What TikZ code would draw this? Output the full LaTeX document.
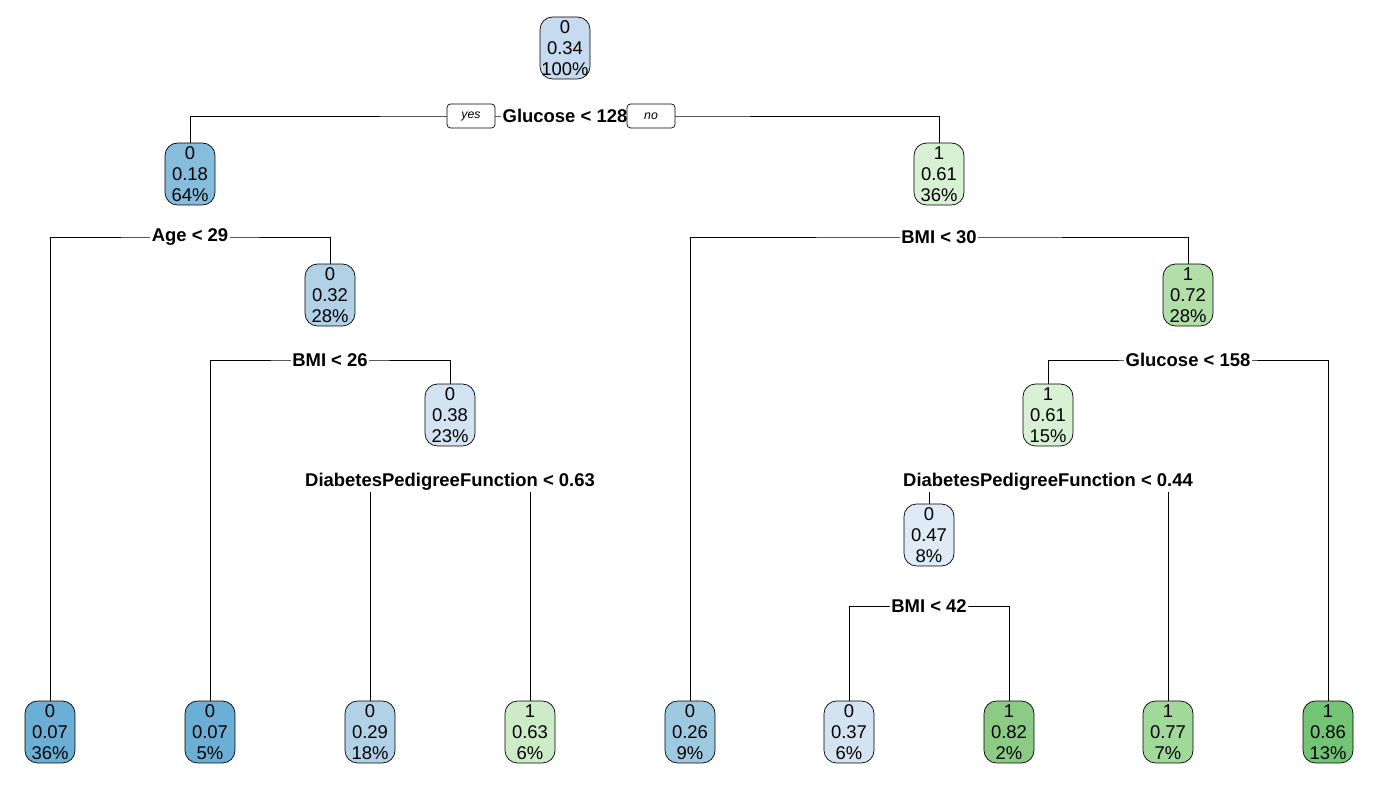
\documentclass[tikz,border=0pt]{standalone}
\usepackage{fontspec}
\setmainfont{Liberation Sans}
\usetikzlibrary{shapes,arrows,positioning,backgrounds}
\definecolor{b07}{HTML}{6BAED6}
\definecolor{b18}{HTML}{86BCDC}
\definecolor{b26}{HTML}{9ECAE1}
\definecolor{b29}{HTML}{B1D1E7}
\definecolor{b34}{HTML}{C6DBEF}
\definecolor{b37}{HTML}{D4E3F2}
\definecolor{b47}{HTML}{DEEBF7}
\definecolor{g61}{HTML}{D8F0D3}
\definecolor{g63}{HTML}{CDEBC6}
\definecolor{g72}{HTML}{B2DFA8}
\definecolor{g77}{HTML}{A1D99B}
\definecolor{g82}{HTML}{8CCB85}
\definecolor{g86}{HTML}{74C476}
\begin{document}
\begin{tikzpicture}[x=0.02cm, y=0.02cm]
    % Define styles
    \tikzstyle{box} = [rectangle, rounded corners=0.25cm, minimum width=1cm, minimum height=1.24cm, inner sep=0pt, align=center, draw=black, font=\fontsize{10.5}{12}\selectfont]
    \tikzstyle{split} = [fill=white, inner sep=1pt, font=\fontsize{10.5}{12}\selectfont\bfseries]
    \tikzstyle{answer} = [rectangle, rounded corners=2pt, minimum width=0.96cm, minimum height=0.48cm, inner sep=0pt, draw=black, fill=white, font=\fontsize{7}{8}\selectfont\itshape]
    \useasboundingbox (0,0) rectangle (1373,-793);

    % Nodes
    \node[box, fill=b34] (root) at (565,-48) {0\\0.34\\100\%};
    \node[box, fill=b18] (n2) at (190,-174) {0\\0.18\\64\%};
    \node[box, fill=g61] (n3) at (939,-174) {1\\0.61\\36\%};
    \node[box, fill=b29] (n5) at (330,-295) {0\\0.32\\28\%};
    \node[box, fill=g72] (n7) at (1188,-295) {1\\0.72\\28\%};
    \node[box, fill=b37] (n11) at (450,-415) {0\\0.38\\23\%};
    \node[box, fill=g61] (n14) at (1048,-415) {1\\0.61\\15\%};
    \node[box, fill=b47] (n28) at (929,-535) {0\\0.47\\8\%};
    \node[box, fill=b07] (l1) at (50,-732) {0\\0.07\\36\%};
    \node[box, fill=b07] (l2) at (210,-732) {0\\0.07\\5\%};
    \node[box, fill=b29] (l3) at (370,-732) {0\\0.29\\18\%};
    \node[box, fill=g63] (l4) at (530,-732) {1\\0.63\\6\%};
    \node[box, fill=b26] (l5) at (690,-732) {0\\0.26\\9\%};
    \node[box, fill=b37] (l6) at (849,-732) {0\\0.37\\6\%};
    \node[box, fill=g82] (l7) at (1009,-732) {1\\0.82\\2\%};
    \node[box, fill=g77] (l8) at (1168,-732) {1\\0.77\\7\%};
    \node[box, fill=g86] (l9) at (1328,-732) {1\\0.86\\13\%};

    % Split labels
    \node[split] (s1) at (565,-116) {Glucose < 128};
    \node[split] (s2) at (190,-237) {Age < 29};
    \node[split] (s3) at (939,-237) {BMI < 30};
    \node[split] (s5) at (330,-360) {BMI < 26};
    \node[split] (s7) at (1188,-360) {Glucose < 158};
    \node[split] (s11) at (450,-482) {DiabetesPedigreeFunction < 0.63};
    \node[split] (s14) at (1048,-482) {DiabetesPedigreeFunction < 0.44};
    \node[split] (s28) at (929,-606) {BMI < 42};
    \node[answer] (yes) at (471,-116) {yes};
    \node[answer] (no) at (651,-116) {no};

    % Connections
    \begin{scope}[on background layer]
        \draw (n2.north) |- (s1.center) -| (n3.north);
        \draw (l1.north) |- (s2.center) -| (n5.north);
        \draw (l5.north) |- (s3.center) -| (n7.north);
        \draw (l2.north) |- (s5.center) -| (n11.north);
        \draw (n14.north) |- (s7.center) -| (l9.north);
        \draw (l3.north) |- (s11.center) -| (l4.north);
        \draw (n28.north) |- (s14.center) -| (l8.north);
        \draw (l6.north) |- (s28.center) -| (l7.north);
    \end{scope}
\end{tikzpicture}
\end{document}
